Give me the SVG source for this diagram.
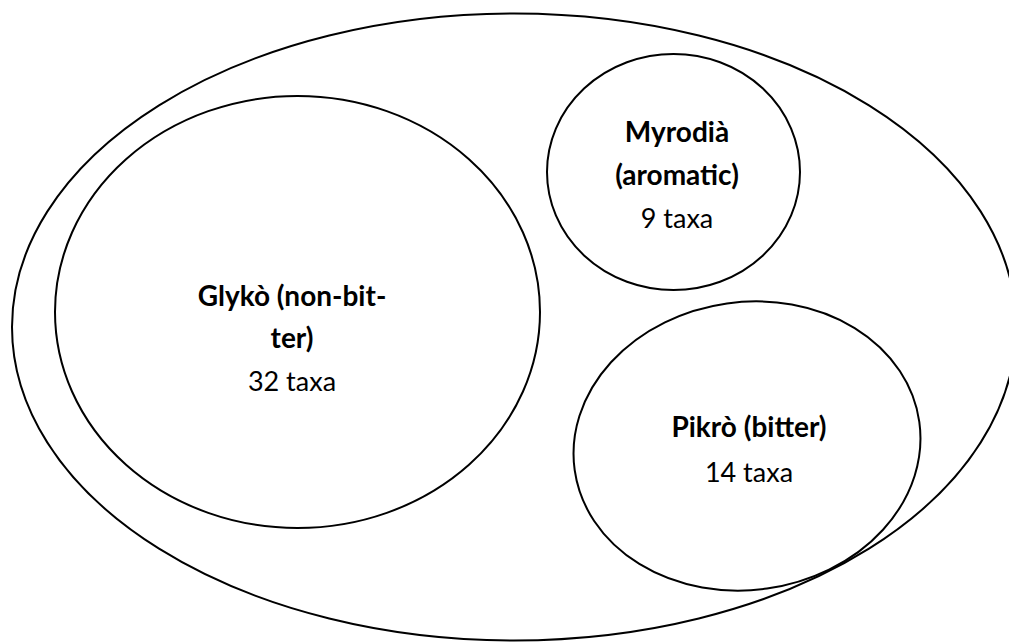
<svg xmlns="http://www.w3.org/2000/svg" width="1009" height="642" viewBox="0 0 1009 642">
<style>
.shape{fill:none;stroke:#000;stroke-width:2}
.t{font-family:Lato,"Open Sans","Liberation Sans",sans-serif;font-size:27px;text-anchor:middle;fill:#000}
.b{font-weight:bold;font-size:28px}
</style>
<rect width="1009" height="642" fill="#fff"/>
<g id="outer">
<ellipse class="shape" cx="514" cy="327" rx="502" ry="313.5"/>
</g>
<g id="glyko">
<ellipse class="shape" cx="297.5" cy="312" rx="242.5" ry="216"/>
<text class="t b" x="292" y="306">Glykò (non-bit-</text>
<text class="t b" x="292" y="348">ter)</text>
<text class="t" x="292" y="391">32 taxa</text>
</g>
<g id="myrodia">
<ellipse class="shape" cx="673.5" cy="172" rx="126.5" ry="118"/>
<text class="t b" x="677" y="142">Myrodià</text>
<text class="t b" x="677" y="185">(aromatic)</text>
<text class="t" x="677" y="228">9 taxa</text>
</g>
<g id="pikro">
<ellipse class="shape" cx="747" cy="446" rx="174" ry="144" transform="rotate(-8 747 446)"/>
<text class="t b" x="749" y="437">Pikrò (bitter)</text>
<text class="t" x="749" y="482">14 taxa</text>
</g>
<g id="connectors"/>
</svg>
